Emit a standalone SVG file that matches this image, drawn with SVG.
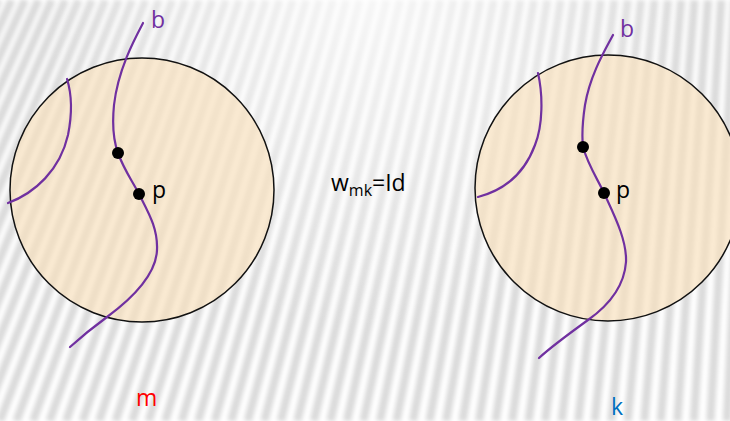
<svg xmlns="http://www.w3.org/2000/svg" width="730" height="421" viewBox="0 0 730 421">
<defs>
<filter id="soft" x="-5%" y="-5%" width="110%" height="110%"><feGaussianBlur stdDeviation="2"/></filter>
<radialGradient id="fade" cx="370" cy="0" r="330" gradientUnits="userSpaceOnUse">
<stop offset="0" stop-color="#fff" stop-opacity="0.75"/>
<stop offset="1" stop-color="#fff" stop-opacity="0"/>
</radialGradient>
</defs>
<style>
.stripe{stroke:#dadada;stroke-width:7;fill:none}
.disc{fill:#f9e1bc;fill-opacity:0.65;stroke:#111;stroke-width:1.5}
.curve{fill:none;stroke:#7030a0;stroke-width:2.2;stroke-linecap:round}
.dot{fill:#000}
.lbl{font-family:"Open Sans","Liberation Sans",sans-serif;font-size:23px}
</style>
<rect width="730" height="421" fill="#fff"/>
<g id="background" class="stripe" filter="url(#soft)">
<path transform="scale(1.18,1)" d="M-294 421L-103.6 0M-280 421L-92.2 0M-266 421L-80.9 0M-252 421L-69.5 0M-238 421L-58.2 0M-224 421L-46.8 0M-210 421L-35.5 0M-196 421L-24.1 0M-182 421L-12.8 0M-168 421L-1.5 0M-154 421L9.9 0M-140 421L21.2 0M-126 421L32.6 0M-112 421L43.9 0M-98 421L55.3 0M-84 421L66.6 0M-70 421L78 0M-56 421L89.3 0M-42 421L100.7 0M-28 421L112 0M-14 421L123.4 0M0 421L134.7 0M14 421L146.1 0M28 421L157.4 0M42 421L168.8 0M56 421L180.1 0M70 421L191.5 0M84 421L202.8 0M98 421L214.2 0M112 421L225.5 0M126 421L236.9 0M140 421L248.2 0M154 421L259.6 0M168 421L270.9 0M182 421L282.2 0M196 421L293.6 0M210 421L304.9 0M224 421L316.3 0M238 421L327.6 0M252 421L339 0M266 421L350.3 0M280 421L361.7 0M294 421L373 0M308 421L384.4 0M322 421L395.7 0M336 421L407.1 0M350 421L418.4 0M364 421L429.8 0M378 421L441.1 0M392 421L452.5 0M406 421L463.8 0M420 421L475.2 0M434 421L486.5 0M448 421L497.9 0M462 421L509.2 0M476 421L520.6 0M490 421L531.9 0M504 421L543.3 0M518 421L554.6 0M532 421L566 0M546 421L577.3 0M560 421L588.6 0M574 421L600 0M588 421L611.3 0M602 421L622.7 0M616 421L634 0M630 421L645.4 0M644 421L656.7 0M658 421L668.1 0M672 421L679.4 0M686 421L690.8 0M700 421L702.1 0M714 421L714 0M728 421L728 0"/>
</g>
<rect width="730" height="421" fill="url(#fade)"/>
<g id="node-m">
<circle class="disc" cx="142" cy="190" r="132"/>
<path class="curve" d="M67 79C72 95 72 115 68 135C60 170 35 193 8 203"/>
<path class="curve" d="M143 23C134 40 118 70 114 105C112 125 114 142 118 153C124 170 133 182 139 194C148 212 158 228 157 250C156 275 130 300 107 317C92 328 80 338 70 347"/>
<circle class="dot" cx="118" cy="153" r="6"/>
<circle class="dot" cx="139" cy="194" r="6"/>
<text class="lbl" x="151" y="28" fill="#7030a0">b</text>
<text class="lbl" x="152" y="198" fill="#000">p</text>
<text class="lbl" x="136" y="406" fill="#ff0000">m</text>
</g>
<g id="node-k">
<circle class="disc" cx="608" cy="188" r="133"/>
<path class="curve" d="M538 73C543 95 543 125 535 145C525 172 505 190 478 197"/>
<path class="curve" d="M613 35C605 50 590 75 585 105C582 125 582 138 583 147C588 165 598 180 604 193C614 215 627 240 626 262C624 290 605 308 588 320C570 333 552 346 539 358"/>
<circle class="dot" cx="583" cy="147" r="6"/>
<circle class="dot" cx="604" cy="193" r="6"/>
<text class="lbl" x="620" y="37" fill="#7030a0">b</text>
<text class="lbl" x="616" y="198" fill="#000">p</text>
<text class="lbl" x="611" y="415" fill="#0070c0">k</text>
</g>
<g id="connectors"/>
<g id="relation">
<text class="lbl" x="331" y="191" fill="#000">w<tspan font-size="16" dy="5">mk</tspan><tspan dy="-5">=Id</tspan></text>
</g>
</svg>
